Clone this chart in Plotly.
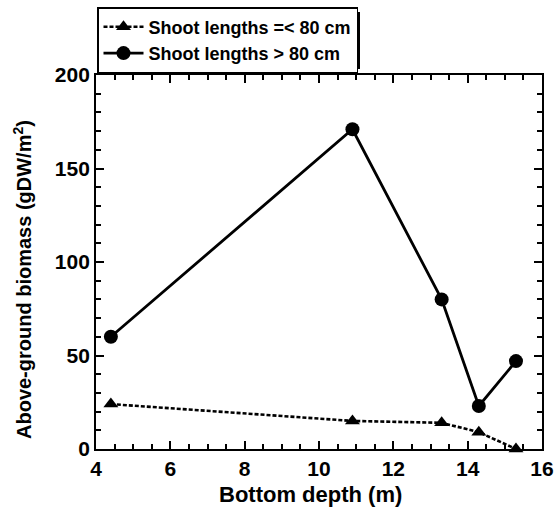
import plotly.graph_objects as go

depth = [4.4, 10.9, 13.3, 14.3, 15.3]
short_shoots = [24, 15, 14, 9, 0]
long_shoots = [60, 171, 80, 23, 47]
series_names = ["Shoot lengths =< 80 cm", "Shoot lengths > 80 cm"]
x_ticks = [4, 6, 8, 10, 12, 14, 16]
y_ticks = [0, 50, 100, 150, 200]
x_title = "Bottom depth (m)"
y_title = "Above-ground biomass (gDW/m<sup>2</sup>)"

FONT = "Liberation Sans, Arial, sans-serif"

fig = go.Figure()
fig.add_trace(go.Scatter(
    x=depth, y=short_shoots, name=series_names[0], mode="lines+markers",
    line=dict(color="black", width=2.6, dash="4px,2px"),
    marker=dict(symbol="triangle-up", size=13, color="black"),
    cliponaxis=False,
))
fig.add_trace(go.Scatter(
    x=depth, y=long_shoots, name=series_names[1], mode="lines+markers",
    line=dict(color="black", width=2.8),
    marker=dict(symbol="circle", size=14, color="black"),
    cliponaxis=False,
))
# invisible carrier trace for the top/right tick axes
fig.add_trace(go.Scatter(
    x=depth, y=long_shoots, xaxis="x2", yaxis="y2", mode="markers",
    marker=dict(opacity=0), showlegend=False, hoverinfo="skip",
))

L, R, T, B = 96, 13, 75, 66
W, H = 555, 515
pw, ph = W - L - R, H - T - B

def px_x(p):
    return (p - L) / pw

def px_y(p):
    return (H - B - p) / ph

# legend drop shadow
fig.add_shape(type="rect", xref="paper", yref="paper",
              x0=px_x(100), x1=px_x(360), y0=px_y(69), y1=px_y(12),
              fillcolor="black", line=dict(width=0), layer="above")

def axis_style(ticks, minor_step, labels=True):
    return dict(
        range=[ticks[0], ticks[-1]], tickvals=ticks,
        showline=True, linecolor="black", linewidth=1.8,
        ticks="inside", ticklen=8, tickwidth=2, tickcolor="black",
        showgrid=False, zeroline=False, automargin=False,
        layer="above traces", showticklabels=labels,
        minor=dict(ticks="inside", dtick=minor_step, ticklen=5, tickwidth=1.6,
                   tickcolor="black", showgrid=False),
        tickfont=dict(family=FONT, size=21, color="black", weight="bold"),
    )

x_minor = (x_ticks[1] - x_ticks[0]) / 4
y_minor = (y_ticks[1] - y_ticks[0]) / 5

fig.update_layout(
    template="none",
    width=W, height=H,
    margin=dict(l=L, r=R, t=T, b=B, pad=0, autoexpand=False),
    plot_bgcolor="white", paper_bgcolor="white",
    showlegend=True,
    legend=dict(
        x=px_x(97), y=px_y(7), xanchor="left", yanchor="top",
        bgcolor="white", bordercolor="black", borderwidth=1.5,
        font=dict(family=FONT, size=18, color="black", weight="bold"),
        tracegroupgap=0, itemwidth=40,
    ),
    xaxis=axis_style(x_ticks, x_minor),
    yaxis=axis_style(y_ticks, y_minor),
    xaxis2=dict(overlaying="x", side="top", anchor="y2", **axis_style(x_ticks, x_minor, labels=False)),
    yaxis2=dict(overlaying="y", side="right", anchor="x2", **axis_style(y_ticks, y_minor, labels=False)),
    annotations=[
        dict(text=x_title, xref="paper", yref="paper", x=px_x(310), y=px_y(494),
             xanchor="center", yanchor="middle", showarrow=False,
             font=dict(family=FONT, size=22, color="black", weight="bold")),
        dict(text=y_title, xref="paper", yref="paper", x=px_x(22), y=px_y(280),
             xanchor="center", yanchor="middle", textangle=-90, showarrow=False,
             font=dict(family=FONT, size=20, color="black", weight="bold")),
    ],
)

fig.write_html("out.html")
